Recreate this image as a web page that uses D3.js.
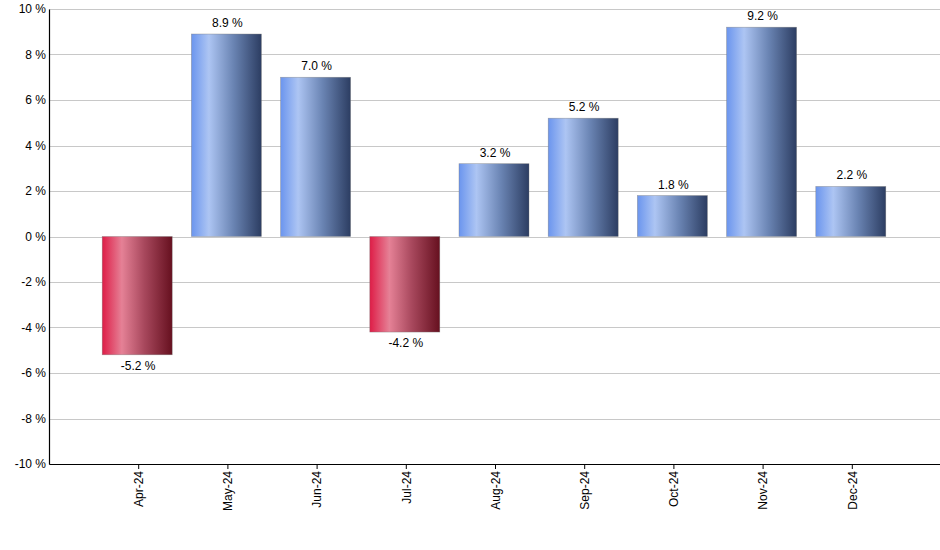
<!DOCTYPE html>
<html><head><meta charset="utf-8">
<script src="https://cdn.jsdelivr.net/npm/d3@7"></script>
<style>body{margin:0;background:#fff}svg{display:block;font-family:"Liberation Sans",Arial,sans-serif}</style>
</head><body><svg id="c" width="940" height="550"></svg>
<script>
const categories = ["Apr-24","May-24","Jun-24","Jul-24","Aug-24","Sep-24","Oct-24","Nov-24","Dec-24"];
const values = [-5.2, 8.9, 7.0, -4.2, 3.2, 5.2, 1.8, 9.2, 2.2];
const yTicks = [-10,-8,-6,-4,-2,0,2,4,6,8,10];

(function(){
const svg = d3.select("#c");
const mLeft = 49, mRight = 941, mTop = 9, mBottom = 464;
const x = d3.scalePoint().domain(categories).range([mLeft, mRight]).padding(1);
const y = d3.scaleLinear().domain([-10, 10]).range([mBottom, mTop]);
const barW = 70;

const defs = svg.append("defs");
function grad(id, stops){
  const g = defs.append("linearGradient").attr("id", id).attr("x1","0%").attr("x2","100%").attr("y1","0%").attr("y2","0%");
  stops.forEach(s => g.append("stop").attr("offset", s[0]).attr("stop-color", s[1]));
}
grad("gpos", [["0%","#6b95ee"],["25%","#adc5f3"],["60%","#6a84b3"],["100%","#2c3d62"]]);
grad("gneg", [["0%","#de1d47"],["28%","#e58196"],["60%","#a8485d"],["100%","#66101f"]]);

svg.append("g").selectAll("line").data(yTicks).join("line")
  .attr("x1", mLeft).attr("x2", 940).attr("y1", d => Math.round(y(d)) + 0.5).attr("y2", d => Math.round(y(d)) + 0.5)
  .attr("stroke", "#c8c8c8").attr("stroke-width", 1);

svg.append("g").selectAll("rect").data(values).join("rect")
  .attr("x", (d,i) => x(categories[i]) - barW/2 - 1)
  .attr("width", barW)
  .attr("y", d => y(Math.max(0, d)))
  .attr("height", d => Math.abs(y(d) - y(0)))
  .attr("fill", d => d >= 0 ? "url(#gpos)" : "url(#gneg)")
  .attr("stroke", "#777").attr("stroke-width", 0.6).attr("stroke-opacity", 0.6);

svg.append("g").selectAll("text").data(values).join("text")
  .attr("x", (d,i) => x(categories[i]))
  .attr("y", d => d >= 0 ? y(d) - 7 : y(d) + 15)
  .attr("text-anchor", "middle").attr("font-size", 12).attr("fill", "#000")
  .text(d => d.toFixed(1) + " %");

const yAxis = d3.axisLeft(y).tickValues(yTicks).tickSize(0).tickPadding(3).tickFormat(d => d + " %");
const gy = svg.append("g").attr("transform", `translate(${mLeft},0)`).call(yAxis);
gy.select(".domain").attr("stroke", "#000").attr("stroke-width", 1.2);
gy.selectAll("text").attr("font-size", 12).attr("fill", "#000").attr("font-family", "Liberation Sans, Arial, sans-serif");

const xAxis = d3.axisBottom(x).tickSize(5).tickSizeOuter(0);
const gx = svg.append("g").attr("transform", `translate(0,${mBottom})`).call(xAxis);
gx.select(".domain").attr("stroke", "#000").attr("stroke-width", 1.2);
gx.selectAll(".tick line").attr("stroke", "#000");
gx.selectAll("text").attr("font-size", 12).attr("fill", "#000").attr("font-family", "Liberation Sans, Arial, sans-serif")
  .attr("transform", "rotate(-90)").attr("text-anchor", "end").attr("x", -7).attr("y", 0).attr("dy", "0.35em");
})();
</script></body></html>
